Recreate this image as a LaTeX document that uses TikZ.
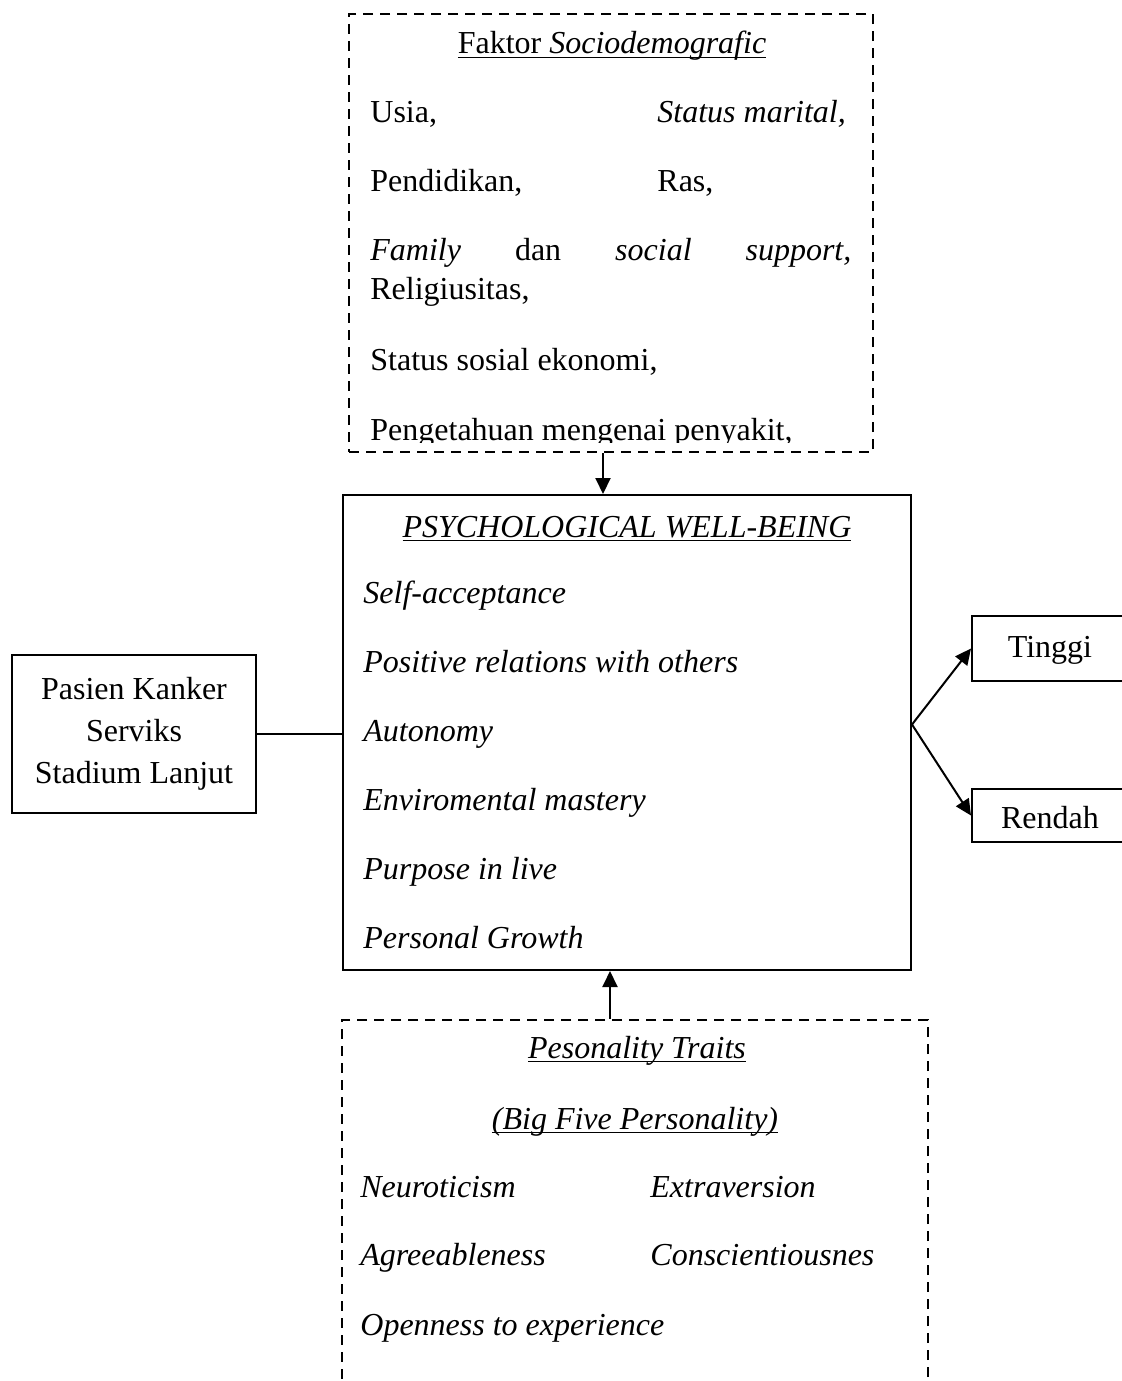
\documentclass[tikz,border=0pt]{standalone}
\usepackage{fontspec}
\setmainfont{Liberation Serif}
\usetikzlibrary{arrows.meta,fit}

\newcommand{\garis}[1]{\setbox0\hbox{#1}\rlap{\rule[-2.2pt]{\wd0}{0.7pt}}\box0}

\begin{document}
\begin{tikzpicture}[x=0.5pt,y=-0.5pt,
  font=\fontsize{16}{21}\selectfont,
  kotak/.style={draw,line width=1pt,inner sep=0pt},
  kotakputus/.style={draw,line width=1.3pt,dash pattern=on 5pt off 3.5pt,inner sep=0pt},
  teks/.style={inner sep=0pt,anchor=base west},
  judul/.style={inner sep=0pt,anchor=base},
  panah/.style={line width=1pt,-{Triangle[length=8pt,width=7.5pt]}}]
  \useasboundingbox (0,0) rectangle (1122,1381);

  % Faktor sociodemografic
  \node[kotakputus,fit={(349,14) (873,452)}] (sosio) {};
  \node[judul] (sosjudul) at (612,54) {\garis{Faktor \textit{Sociodemografic}}};
  \node[teks] (usia) at (370,122) {Usia,};
  \node[teks] (marital) at (657,122) {\textit{Status marital,}};
  \node[teks] (didik) at (370,191) {Pendidikan,};
  \node[teks] (ras) at (657,191) {Ras,};
  \node[teks] (family) at (370,260) {\makebox[240.5pt][s]{\textit{Family} dan \textit{social} \textit{support,}}};
  \node[teks] (religi) at (370,299) {Religiusitas,};
  \node[teks] (ekonomi) at (370,370) {Status sosial ekonomi,};
  \begin{scope}
    \clip (349,14) rectangle (873,442);
    \node[teks] (tahu) at (370,440) {Pengetahuan mengenai penyakit,};
  \end{scope}

  % Psychological well-being
  \node[kotak,fit={(343,495) (911,970)}] (pwb) {};
  \node[judul] (pwbjudul) at (627,537) {\garis{\textit{PSYCHOLOGICAL WELL-BEING}}};
  \node[teks] (dim1) at (363,603) {\textit{Self-acceptance}};
  \node[teks] (dim2) at (363,672) {\textit{Positive relations with others}};
  \node[teks] (dim3) at (363,741) {\textit{Autonomy}};
  \node[teks] (dim4) at (363,810) {\textit{Enviromental mastery}};
  \node[teks] (dim5) at (363,879) {\textit{Purpose in live}};
  \node[teks] (dim6) at (363,948) {\textit{Personal Growth}};

  % Pasien
  \node[kotak,fit={(12,655) (256,813)}] (pasien) {};
  \node[judul] (pasien1) at (134,699) {Pasien Kanker};
  \node[judul] (pasien2) at (134,741) {Serviks};
  \node[judul] (pasien3) at (134,783) {Stadium Lanjut};

  % Hasil
  \node[kotak,fit={(972,616) (1128,681)}] (tinggi) {};
  \node[judul] (tinggitxt) at (1050,657) {Tinggi};
  \node[kotak,fit={(972,789) (1128,842)}] (rendah) {};
  \node[judul] (rendahtxt) at (1050,828) {Rendah};

  % Personality traits
  \node[kotakputus,fit={(342,1020) (928,1420)}] (trait) {};
  \node[judul] (traitjudul) at (637,1058) {\garis{\textit{Pesonality Traits}}};
  \node[judul] (bigfive) at (635,1129) {\garis{\textit{(Big Five Personality)}}};
  \node[teks] (neuro) at (360,1197) {\textit{Neuroticism}};
  \node[teks] (extra) at (650,1197) {\textit{Extraversion}};
  \node[teks] (agree) at (360,1265) {\textit{Agreeableness}};
  \node[teks] (consc) at (650,1265) {\textit{Conscientiousnes}};
  \node[teks] (open) at (360,1335) {\textit{Openness to experience}};

  % Hubungan
  \coordinate (atas) at (603,0);
  \coordinate (bawah) at (610,0);
  \coordinate (cabang) at ([yshift=4pt]pwb.east);
  \draw[panah] (sosio.south -| atas) -- (pwb.north -| atas);
  \draw[panah] (trait.north -| bawah) -- (pwb.south -| bawah);
  \draw[line width=1pt] (pasien.east) -- (pasien.east -| pwb.west);
  \draw[panah] (cabang) -- (tinggi.west);
  \draw[panah] (cabang) -- (rendah.west);
\end{tikzpicture}
\end{document}
